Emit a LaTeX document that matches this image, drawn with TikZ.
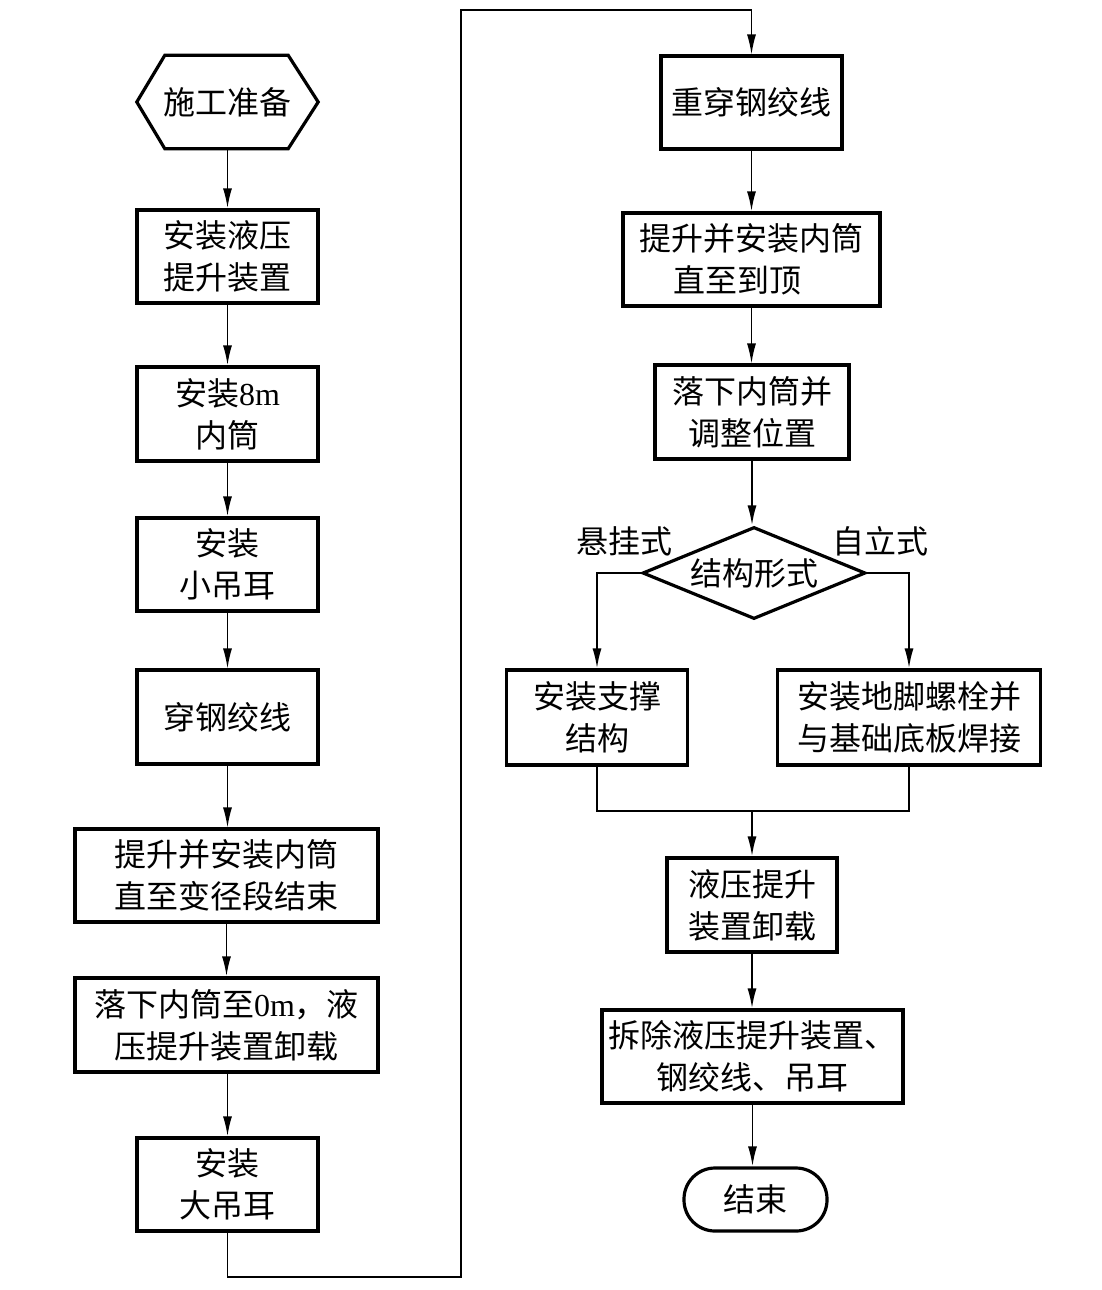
\documentclass[tikz,border=0pt]{standalone}
\usepackage{fontspec}
\setmainfont{Liberation Serif}
\newfontfamily\cjk{Noto Sans CJK SC}
\usetikzlibrary{arrows.meta,shapes.geometric}
\begin{document}
\begin{tikzpicture}[x=1pt,y=-1pt,
  txt/.style={align=center,inner sep=0pt,font=\cjk\fontsize{32}{42}\selectfont},
  box/.style={txt,draw,line width=3.2pt,rectangle,minimum height=93pt},
  flow/.style={line width=1.9pt,-{Latex[length=20pt,width=9pt]}},
  thinflow/.style={line width=1.3pt,-{Latex[length=20pt,width=9pt]}},
  thinline/.style={line width=1.3pt}]
\useasboundingbox (0,0) rectangle (1102,1290);
% left column
\node[txt,minimum width=181pt,minimum height=93pt] (hex) at (227.5,102) {施工准备};
\draw[line width=3.2pt,line join=miter] (hex.west) -- ([xshift=28pt]hex.north west) -- ([xshift=-30pt]hex.north east) -- (hex.east) -- ([xshift=-30pt]hex.south east) -- ([xshift=28pt]hex.south west) -- cycle;
\node[box,minimum width=181pt] (b2) at (227.5,256.5) {安装液压\\提升装置};
\node[box,minimum width=181pt,minimum height=94pt] (b3) at (227.5,414) {安装{\fontspec{Liberation Serif}8m}\\内筒};
\node[box,minimum width=181pt] (b4) at (227.5,564.5) {安装\\小吊耳};
\node[box,minimum width=181pt,minimum height=94pt] (b5) at (227.5,717) {穿钢绞线};
\node[box,minimum width=303pt] (b6) at (226.5,875.5) {提升并安装内筒\\直至变径段结束};
\node[box,minimum width=303pt,minimum height=94pt] (b7) at (226.5,1025) {落下内筒至{\fontspec{Liberation Serif}0m}，液\\压提升装置卸载};
\node[box,minimum width=181pt] (b8) at (227.5,1184.5) {安装\\大吊耳};
% right column
\node[box,minimum width=181pt] (r1) at (751.5,102.5) {重穿钢绞线};
\node[box,minimum width=257pt] (r2) at (751.5,259.5) {提升并安装内筒\\直至到顶\hspace*{28pt}};
\node[box,minimum width=194pt,minimum height=94pt] (r3) at (752,412) {落下内筒并\\调整位置};
\node[txt,draw,line width=3.2pt,diamond,aspect=2.4,minimum width=223pt,minimum height=92pt] (d) at (754,573) {结构形式};
\node[txt] (lab1) at (624,541) {悬挂式};
\node[txt] (lab2) at (880,541) {自立式};
\node[box,minimum width=181pt,minimum height=95pt] (s1) at (597,717.5) {安装支撑\\结构};
\node[box,minimum width=263pt,minimum height=95pt] (s2) at (909,717.5) {安装地脚螺栓并\\与基础底板焊接};
\node[box,minimum width=170pt,minimum height=94pt] (r5) at (752,905) {液压提升\\装置卸载};
\node[box,minimum width=301pt] (r6) at (752.5,1056.5) {拆除液压提升装置、\\钢绞线、吊耳};
\node[txt,draw,line width=3.2pt,rectangle,rounded corners=31pt,minimum width=143pt,minimum height=63pt] (e) at (755.5,1199.5) {结束};
% connectors left
\draw[flow] (hex.south) -- (hex.south |- b2.north);
\draw[flow] (b2.south) -- (b2.south |- b3.north);
\draw[flow] (b3.south) -- (b3.south |- b4.north);
\draw[thinflow] (b4.south) -- (b4.south |- b5.north);
\draw[thinflow] (b5.south) -- (b5.south |- b6.north);
\draw[flow] (b7.north |- b6.south) -- (b7.north);
\draw[flow] (b8.north |- b7.south) -- (b8.north);
% loop
\coordinate (c1) at (461,1277);
\coordinate (c2) at (461,10);
\draw[thinflow] (b8.south) |- (c1) -- (c2) -| (r1.north);
% connectors right
\draw[flow] (r1.south) -- (r1.south |- r2.north);
\draw[thinflow] (r2.south) -- (r2.south |- r3.north);
\draw[flow] (r3.south) -- (r3.south |- d.north);
\draw[flow] (d.west) -| (s1.north);
\draw[flow] (d.east) -| (s2.north);
\coordinate (j) at (752,811);
\draw[thinline] (s1.south) |- (j) -| (s2.south);
\draw[flow] (j) -- (j |- r5.north);
\draw[flow] (r5.south) -- (r5.south |- r6.north);
\draw[flow] (r6.south) -- (r6.south |- e.north);
\end{tikzpicture}
\end{document}
